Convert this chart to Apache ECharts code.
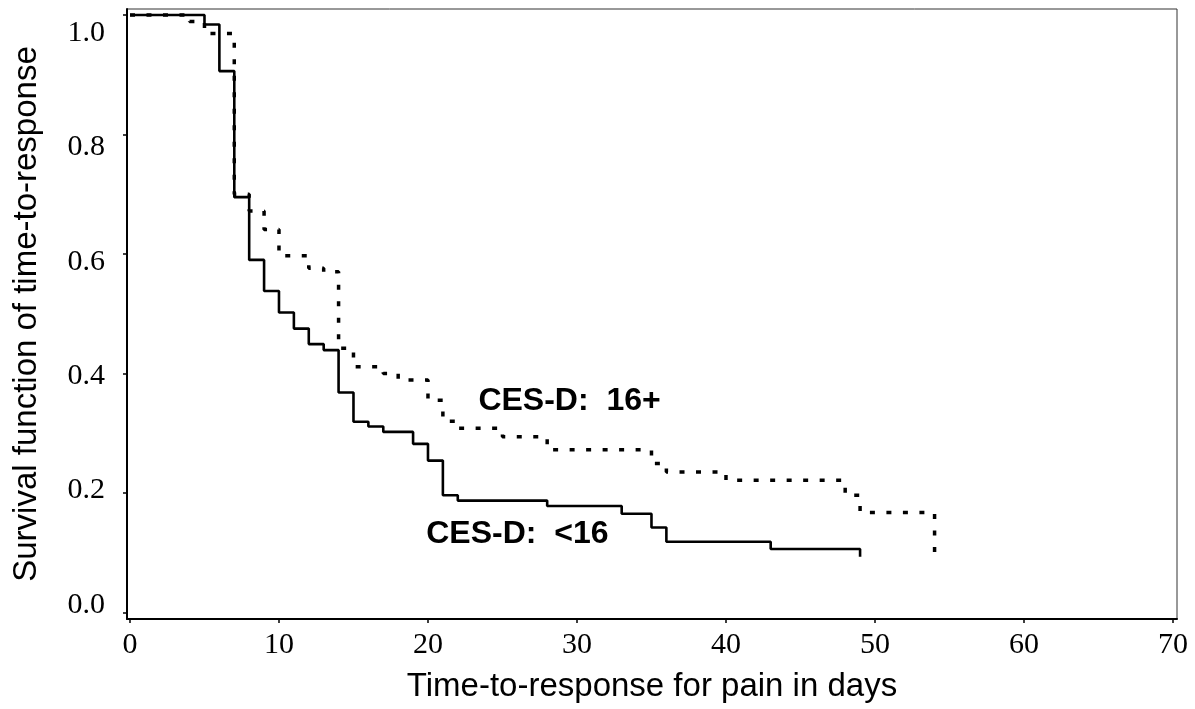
<!DOCTYPE html>
<html>
<head>
<meta charset="utf-8">
<script src="https://cdn.jsdelivr.net/npm/echarts@6/dist/echarts.min.js"></script>
<style>
  html, body { margin: 0; padding: 0; background: #fff; }
  #chart { width: 1195px; height: 709px; }
</style>
</head>
<body>
<div id="chart"></div>
<script>
// Kaplan-Meier estimates: day of each step and survival after the step
const lowDays  = [0, 5, 6, 7, 8, 9, 10, 11, 12, 13, 14, 15, 16, 17, 19, 20, 21, 22, 28, 33, 35, 36, 43, 49];
const lowSurv  = [1.0, 0.984, 0.906, 0.695, 0.590, 0.538, 0.502, 0.475, 0.449, 0.439, 0.368, 0.319, 0.311, 0.302, 0.282, 0.254, 0.196, 0.187, 0.178, 0.165, 0.142, 0.118, 0.106, 0.093];

const highDays = [0, 4, 5, 7, 8, 9, 10, 12, 13, 14, 15, 17, 18, 20, 21, 22, 25, 28, 35, 36, 40, 48, 49, 54];
const highSurv = [1.0, 0.989, 0.969, 0.700, 0.672, 0.641, 0.597, 0.576, 0.570, 0.442, 0.411, 0.400, 0.389, 0.355, 0.320, 0.308, 0.294, 0.272, 0.249, 0.235, 0.221, 0.196, 0.167, 0.099];

const xTicks = [0, 10, 20, 30, 40, 50, 60, 70];
const yTicks = [0.0, 0.2, 0.4, 0.6, 0.8, 1.0];

const groupLow = 'CES-D:  <16';
const groupHigh = 'CES-D:  16+';

const pairs = (xs, ys) => xs.map((x, i) => [x, ys[i]]);

const serif = '"Liberation Serif", "Times New Roman", serif';
const sans = '"Liberation Sans", Arial, sans-serif';

const chart = echarts.init(document.getElementById('chart'), null, { renderer: 'canvas' });

chart.setOption({
  backgroundColor: '#ffffff',
  animation: false,
  grid: {
    left: 127, right: 18, top: 9, bottom: 90,
    show: true, borderColor: '#333', borderWidth: 1,
    outerBoundsMode: 'none'
  },
  xAxis: {
    type: 'value',
    min: -0.2, max: 70.27,
    name: 'Time-to-response for pain in days',
    nameLocation: 'middle',
    nameGap: 51,
    nameTextStyle: { fontFamily: sans, fontSize: 33, color: '#000' },
    axisLine: { show: true, onZero: false, lineStyle: { color: '#000', width: 2 } },
    axisTick: { show: true, length: 4, customValues: xTicks, lineStyle: { color: '#000', width: 1.5 } },
    axisLabel: { customValues: xTicks, margin: 11, fontFamily: serif, fontSize: 30, color: '#000' },
    splitLine: { show: false }
  },
  yAxis: [
    {
      type: 'value',
      min: -0.0112, max: 1.010,
      name: 'Survival function of time-to-response',
      nameLocation: 'middle',
      nameGap: 84,
      nameTextStyle: { fontFamily: sans, fontSize: 33, color: '#000' },
      axisLine: { show: true, onZero: false, lineStyle: { color: '#000', width: 2 } },
      axisTick: { show: true, length: 4, customValues: yTicks, lineStyle: { color: '#000', width: 1.5 } },
      axisLabel: { show: false },
      splitLine: { show: false }
    },
    {
      // tick labels for the survival axis
      type: 'value',
      position: 'left',
      min: -0.0245, max: 1.042,
      axisLine: { show: false },
      axisTick: { show: false },
      axisLabel: {
        customValues: yTicks, margin: 22,
        fontFamily: serif, fontSize: 30, color: '#000',
        formatter: v => v.toFixed(1)
      },
      splitLine: { show: false }
    }
  ],
  series: [
    {
      name: groupHigh,
      type: 'line',
      step: 'end',
      symbol: 'none',
      data: pairs(highDays, highSurv),
      lineStyle: { color: '#000', width: 3.5, type: [5, 11.5] },
      markPoint: {
        symbol: 'circle', symbolSize: 0,
        label: { show: true, position: 'inside', formatter: groupHigh,
                 fontFamily: sans, fontWeight: 'bold', fontSize: 32, color: '#000' },
        data: [{ coord: [29.5, 0.354] }]
      }
    },
    {
      name: groupLow,
      type: 'line',
      step: 'end',
      symbol: 'none',
      data: pairs(lowDays, lowSurv),
      lineStyle: { color: '#000', width: 2.6 },
      markPoint: {
        symbol: 'circle', symbolSize: 0,
        label: { show: true, position: 'inside', formatter: groupLow,
                 fontFamily: sans, fontWeight: 'bold', fontSize: 32, color: '#000' },
        data: [{ coord: [26.0, 0.130] }]
      }
    }
  ]
});
</script>
</body>
</html>
